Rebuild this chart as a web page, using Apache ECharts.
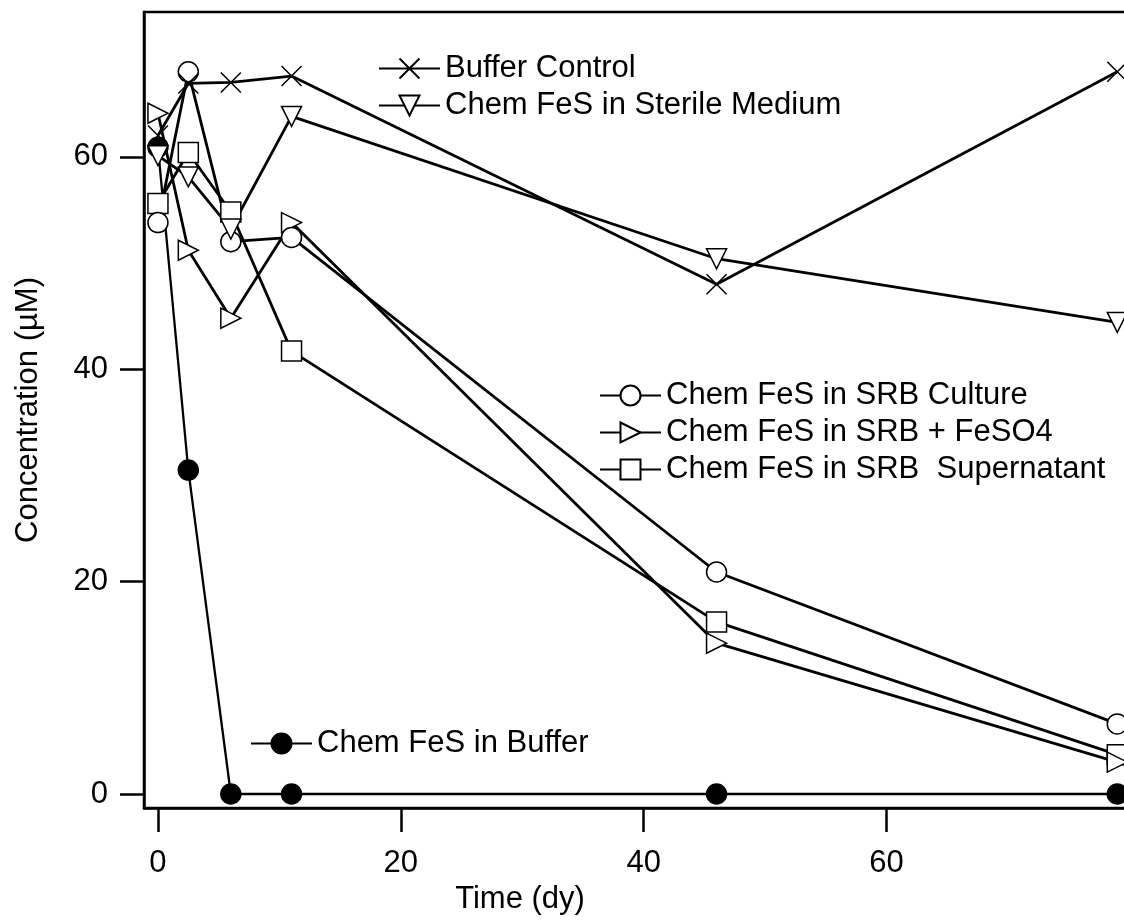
<!DOCTYPE html>
<html>
<head>
<meta charset="utf-8">
<script src="https://cdn.jsdelivr.net/npm/echarts@6/dist/echarts.min.js"></script>
<style>
html,body{margin:0;padding:0;background:#fff;}
#chart{width:1124px;height:923px;}
</style>
</head>
<body>
<div id="chart"></div>
<script>
// ---- data ----
const times = [0, 2.5, 6, 11, 46, 79];
const bufferControl   = [62.0, 66.9, 67.0, 67.6, 48.0, 68.0];
const sterileMedium   = [60.1, 58.1, 53.2, 63.8, 50.4, 44.4];
const srbCulture      = [53.8, 68.0, 52.0, 52.4, 20.9, 6.6];
const srbFeSO4        = [64.1, 51.2, 44.8, 53.8, 14.2, 3.0];
const srbSupernatant  = [55.6, 60.4, 54.8, 41.7, 16.2, 3.7];
const chemBuffer      = [60.9, 30.5, 0, 0, 0, 0];
const xTicks = [0, 20, 40, 60];
const yTicks = [0, 20, 40, 60];

const names = {
  bc: 'Buffer Control',
  sm: 'Chem FeS in Sterile Medium',
  cu: 'Chem FeS in SRB Culture',
  fe: 'Chem FeS in SRB + FeSO4',
  su: 'Chem FeS in SRB  Supernatant',
  bu: 'Chem FeS in Buffer'
};

const FONT = '"Liberation Sans", Arial, sans-serif';
const FS = 31;

function pairs(vals){ return times.map((t,i)=>[t, vals[i]]); }

function mk(name, vals, symbol, fill, lw){
  return {
    type: 'line', name: name, data: pairs(vals),
    symbol: symbol, symbolSize: 20,
    showAllSymbol: true,
    clip: false,
    lineStyle: {color: '#000', width: lw || 2.8},
    itemStyle: {color: fill || '#fff', borderColor: '#000', borderWidth: 1.5},
    emphasis: {disabled: true},
    animation: false,
    z: 2
  };
}

const legendCommon = {
  orient: 'vertical',
  itemWidth: 61, itemHeight: 25, itemGap: 6, padding: 0,
  selectedMode: false,
  textStyle: {fontFamily: FONT, fontSize: FS, color: '#000'}
};

const chart = echarts.init(document.getElementById('chart'), null, {renderer: 'canvas'});
chart.setOption({
  backgroundColor: '#fff',
  animation: false,
  grid: {left: 144, top: 12, width: 1000, height: 796, show: true,
         outerBoundsMode: 'none', containLabel: false,
         borderColor: '#000', borderWidth: 2.5, backgroundColor: 'transparent'},
  xAxis: {
    type: 'value', min: -1.15, max: 81.2,
    splitLine: {show: false},
    axisLine: {show: true, onZero: false, lineStyle: {color: '#000', width: 2.5}},
    axisTick: {show: true, length: 24, customValues: xTicks, lineStyle: {color: '#000', width: 2.5}},
    axisLabel: {customValues: xTicks, margin: 40, fontFamily: FONT, fontSize: FS, color: '#000'},
    name: 'Time (dy)', nameLocation: 'middle', nameGap: 76,
    nameTextStyle: {fontFamily: FONT, fontSize: FS, color: '#000', padding: [0, 248, 0, 0]}
  },
  yAxis: {
    type: 'value', min: -1.32, max: 73.63,
    splitLine: {show: false},
    axisLine: {show: true, onZero: false, lineStyle: {color: '#000', width: 2.5}},
    axisTick: {show: true, length: 24, customValues: yTicks, lineStyle: {color: '#000', width: 2.5}},
    axisLabel: {customValues: yTicks, margin: 36, fontFamily: FONT, fontSize: FS, color: '#000'},
    name: 'Concentration (µM)', nameLocation: 'middle', nameGap: 100, nameRotate: 90,
    nameTextStyle: {fontFamily: FONT, fontSize: FS, color: '#000'}
  },
  legend: [
    Object.assign({}, legendCommon, {left: 378, top: 53, data: [names.bc, names.sm]}),
    Object.assign({}, legendCommon, {left: 599, top: 380, data: [names.cu, names.fe, names.su]}),
    Object.assign({}, legendCommon, {left: 250, top: 728, data: [names.bu]})
  ],
  series: [
    mk(names.bu, chemBuffer, 'circle', '#000', 2.3),
    mk(names.su, srbSupernatant, 'rect'),
    mk(names.fe, srbFeSO4, 'path://M0,0 L10,5 L0,10 Z'),
    mk(names.cu, srbCulture, 'circle'),
    mk(names.sm, sterileMedium, 'path://M0,0 L10,0 L5,10 Z'),
    mk(names.bc, bufferControl, 'path://M0,0 L10,10 M10,0 L0,10')
  ]
});
</script>
</body>
</html>
